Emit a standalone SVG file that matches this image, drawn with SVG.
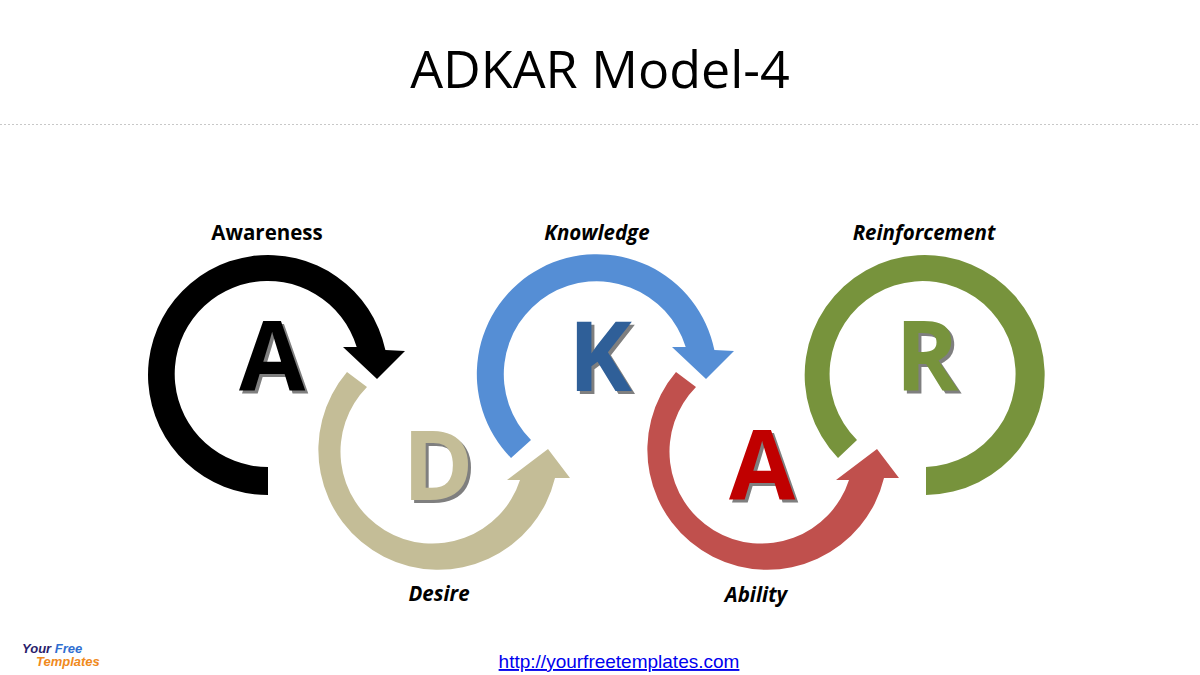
<svg xmlns="http://www.w3.org/2000/svg" width="1200" height="675" viewBox="0 0 1200 675">
<style>
.lbl{font-family:"Open Sans","Liberation Sans",sans-serif;font-weight:bold;font-size:20.5px;fill:#000;text-anchor:middle}
.it{font-style:italic}
.big{font-family:"Open Sans","Liberation Sans",sans-serif;font-weight:bold;font-size:96px;text-anchor:middle}
.sh{fill:#7f7f7f}
</style>
<rect width="1200" height="675" fill="#fff"/>
<text x="600" y="88" font-family="'Open Sans','Liberation Sans',sans-serif" font-size="52" text-anchor="middle" fill="#000">ADKAR Model-4</text>
<line x1="0" y1="124.5" x2="1200" y2="124.5" stroke="#c8c8c8" stroke-dasharray="2,2"/>
<g id="node-A">
<path d="M268,495 A120,120 0 1 1 385.4,350.1 L405,351 L377,379 L343,347 L356.7,347 A93,93 0 1 0 268,467 Z" fill="#000"/>
<text class="big sh" x="275" y="394">A</text><text class="big" x="272" y="391" fill="#000">A</text>
<text class="lbl" x="267" y="240">Awareness</text>
</g>
<g id="node-D">
<path d="M347,372 A120,120 0 1 0 555,478 L570,478 L548,449 L507,480 L520,480 A92,92 0 1 1 367,387 Z" fill="#c4bd97"/>
<text class="big sh" x="441" y="503">D</text><text class="big" x="438" y="500" fill="#c4bd97">D</text>
<text class="lbl it" x="439" y="601">Desire</text>
</g>
<g id="node-K">
<path d="M511,458 A120,120 0 1 1 714.4,350.1 L734,351 L706,379 L672,347 L685.7,347 A93,93 0 1 0 531,440 Z" fill="#558ed5"/>
<text class="big sh" x="603" y="394">K</text><text class="big" x="600" y="391" fill="#2f5f98">K</text>
<text class="lbl it" x="597" y="240">Knowledge</text>
</g>
<g id="node-A2">
<path transform="translate(329,0)" d="M347,372 A120,120 0 1 0 555,478 L570,478 L548,449 L507,480 L520,480 A92,92 0 1 1 367,387 Z" fill="#c0504d"/>
<text class="big sh" x="765" y="503">A</text><text class="big" x="762" y="500" fill="#c00000">A</text>
<text class="lbl it" x="756" y="602">Ability</text>
</g>
<g id="node-R">
<path d="M926,495 A120,120 0 1 0 838,458 L857,440 A93,93 0 1 1 926,467 Z" fill="#77933c"/>
<text class="big sh" x="930" y="394">R</text><text class="big" x="927" y="391" fill="#77933c">R</text>
<text class="lbl it" x="924" y="240">Reinforcement</text>
</g>
<g id="connectors"></g>
<text x="619" y="668" font-family="'Liberation Sans',sans-serif" font-size="19" fill="#0000ee" text-anchor="middle" text-decoration="underline">http://yourfreetemplates.com</text>
<g font-family="'Liberation Sans',sans-serif" font-weight="bold" font-style="italic" font-size="13">
<text x="22" y="653" fill="#2a1d6b">Your <tspan fill="#2f6fd1">Free</tspan></text>
<text x="36" y="666" fill="#f08a1c">Templates</text>
</g>
</svg>
